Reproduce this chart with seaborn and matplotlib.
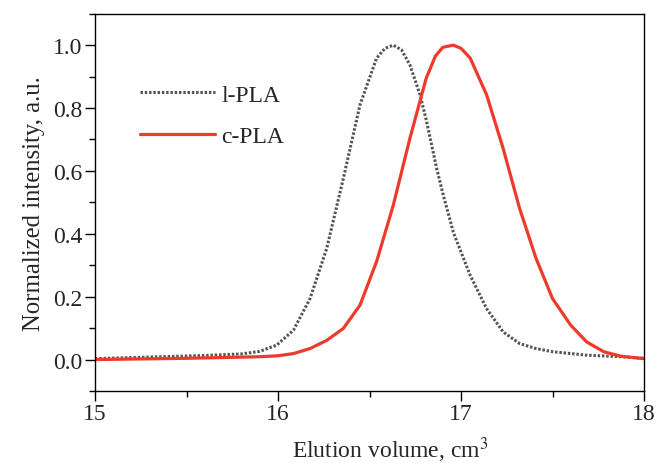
import matplotlib
matplotlib.use("Agg")
import matplotlib.pyplot as plt
import seaborn as sns
import pandas as pd

# l-PLA (gray dotted) readings
l_x = [15.0, 15.3, 15.6, 15.8, 15.90, 15.993, 16.084, 16.175, 16.266, 16.357, 16.448, 16.539,
       16.585, 16.63, 16.675, 16.721, 16.776, 16.81, 16.867, 16.90, 16.958, 17.05, 17.14, 17.23,
       17.32, 17.41, 17.50, 17.687, 17.87, 18.0]
l_y = [0.003, 0.008, 0.013, 0.018, 0.026, 0.046, 0.093, 0.194, 0.353, 0.576, 0.81, 0.959,
       0.99, 1.0, 0.985, 0.937, 0.842, 0.762, 0.608, 0.53, 0.405, 0.268, 0.162, 0.088,
       0.051, 0.035, 0.025, 0.014, 0.009, 0.004]

# c-PLA (red) readings
c_x = [15.0, 15.5, 15.90, 16.0, 16.084, 16.175, 16.266, 16.357, 16.448, 16.539, 16.63, 16.721,
       16.81, 16.86, 16.90, 16.958, 17.0, 17.05, 17.14, 17.23, 17.32, 17.41, 17.50, 17.60,
       17.687, 17.78, 17.87, 17.98, 18.0]
c_y = [0.0, 0.004, 0.009, 0.012, 0.019, 0.035, 0.061, 0.099, 0.173, 0.312, 0.491, 0.704,
       0.895, 0.965, 0.993, 1.0, 0.99, 0.959, 0.842, 0.672, 0.481, 0.322, 0.194, 0.109,
       0.056, 0.025, 0.011, 0.004, 0.003]

series_names = ["l-PLA", "c-PLA"]

df = pd.concat([
    pd.DataFrame({"x": l_x, "y": l_y, "s": series_names[0]}),
    pd.DataFrame({"x": c_x, "y": c_y, "s": series_names[1]}),
])

sns.set_style("ticks")
plt.rcParams['font.family'] = ['Liberation Serif', 'DejaVu Serif']
plt.rcParams['mathtext.fontset'] = 'stix'

FS = 17
fig = plt.figure(figsize=(6.59, 4.64), dpi=100)
ax = fig.add_axes([95/659, 1-392/464, (644-95)/659, (392-14.7)/464])

sns.lineplot(data=df[df.s == "l-PLA"], x="x", y="y", ax=ax, color="#555555",
             linewidth=2.2, linestyle=(0, (0.8, 0.6)), label="l-PLA", sort=False)
sns.lineplot(data=df[df.s == "c-PLA"], x="x", y="y", ax=ax, color="#ee3a2a",
             linewidth=2.3, label="c-PLA", sort=False)

ax.set_xlim(15, 18)
ax.set_ylim(-0.1, 1.1)
ax.set_xticks([15, 16, 17, 18])
ax.set_xticks([15.5, 16.5, 17.5], minor=True)
ax.set_yticks([0.0, 0.2, 0.4, 0.6, 0.8, 1.0])
ax.set_yticklabels(["0.0", "0.2", "0.4", "0.6", "0.8", "1.0"])
ax.set_yticks([-0.1, 0.1, 0.3, 0.5, 0.7, 0.9, 1.1], minor=True)
ax.tick_params(axis='both', which='major', length=7, width=1, labelsize=FS, direction='out',
               color='black', pad=2)
ax.tick_params(axis='both', which='minor', length=4, width=1, direction='out', color='black')
for sp in ax.spines.values():
    sp.set_linewidth(1.0)
    sp.set_color('black')

ax.set_xlabel("Elution volume, cm$^3$", fontsize=FS)
ax.xaxis.set_label_coords(0.537, -0.115)
ax.set_ylabel("Normalized intensity, a.u.", fontsize=17.8, labelpad=6)

leg = ax.legend(loc='upper left', bbox_to_anchor=(0.043, 0.87), frameon=False, fontsize=FS,
                handlelength=3.2, labelspacing=0.85, handletextpad=0.25)

fig.savefig("out.png", dpi=100)
